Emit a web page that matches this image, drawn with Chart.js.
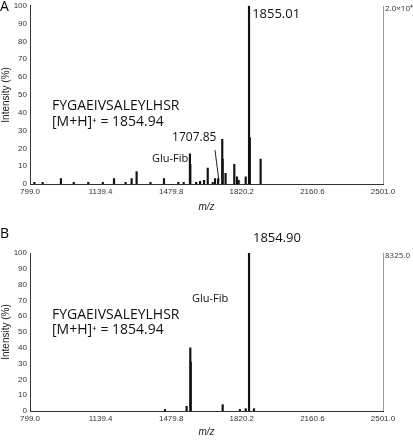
<!DOCTYPE html>
<html>
<head>
<script src="https://cdn.jsdelivr.net/npm/chart.js@4"></script>
<style>
  body { margin: 0; background: #fff; font-family: 'Open Sans', sans-serif; }
  .panel { position: relative; width: 413px; }
  .tag { position: absolute; left: 0; font-size: 14px; color: #000; }
</style>
</head>
<body>
<div class="panel" style="height:215px"><span class="tag" style="top:-4px">A</span><canvas id="chartA"></canvas></div>
<div class="panel" style="height:220px;margin-top:5px"><span class="tag" style="top:3px">B</span><canvas id="chartB"></canvas></div>
<script>
const xTicks = [799.0, 1139.4, 1479.8, 1820.2, 2160.6, 2501.0];
const yTicks = [0, 10, 20, 30, 40, 50, 60, 70, 80, 90, 100];

// panel A peaks (m/z, relative intensity)
const peaksA_mz = [820, 860, 948, 1010, 1080, 1150, 1204, 1260, 1289, 1313, 1380, 1445, 1514, 1540, 1570, 1572, 1600, 1619, 1638, 1656, 1680, 1691, 1706, 1726, 1728, 1742, 1784, 1797, 1805, 1839, 1855, 1859, 1911];
const peaksA_int = [1, 1, 3, 1, 1, 1, 3, 1, 3, 7, 1, 3, 1, 1, 17, 11, 1, 1.5, 2, 9, 1, 3, 3, 25, 14, 6, 11, 4, 2, 4, 100, 26, 14];

// panel B peaks
const peaksB_mz = [1450, 1554, 1572, 1574, 1728, 1811, 1839, 1855, 1879];
const peaksB_int = [1, 3, 40, 31, 4, 1, 1.5, 100, 1.5];

const notesA = [
  { text: '1855.01', x: 1870, y: 95, size: 13 },
  { text: 'FYGAEIVSALEYLHSR', x: 905, y: 44, size: 14 },
  { text: '[M+H]\u207A = 1854.94', x: 905, y: 35, size: 14 },
  { text: '1707.85', x: 1484, y: 26, size: 12 },
  { text: 'Glu-Fib', x: 1387, y: 14, size: 11 }
];
const notesB = [
  { text: '1854.90', x: 1874, y: 109, size: 13 },
  { text: 'FYGAEIVSALEYLHSR', x: 905, y: 61, size: 14 },
  { text: '[M+H]\u207A = 1854.94', x: 905, y: 51, size: 14 },
  { text: 'Glu-Fib', x: 1580, y: 71, size: 11 }
];

function overlay(notes, corner, leader) {
  return {
    id: 'overlay',
    afterDraw(chart) {
      const { ctx, scales: { x, y }, chartArea } = chart;
      ctx.save();
      ctx.fillStyle = '#111';
      ctx.textBaseline = 'middle';
      notes.forEach(n => {
        ctx.font = n.size + 'px "Open Sans"';
        ctx.fillText(n.text, x.getPixelForValue(n.x), y.getPixelForValue(n.y));
      });
      // right border at 2501
      ctx.strokeStyle = '#999';
      ctx.lineWidth = 1;
      ctx.beginPath();
      ctx.moveTo(chartArea.right + 0.5, chartArea.top);
      ctx.lineTo(chartArea.right + 0.5, chartArea.bottom);
      ctx.stroke();
      ctx.font = '8px "Open Sans"';
      ctx.fillStyle = '#333';
      ctx.fillText(corner, chartArea.right + 2, chartArea.top + 3);
      if (leader) {
        ctx.strokeStyle = '#222';
        ctx.beginPath();
        ctx.moveTo(x.getPixelForValue(leader[0]), y.getPixelForValue(leader[1]));
        ctx.lineTo(x.getPixelForValue(leader[2]), y.getPixelForValue(leader[3]));
        ctx.stroke();
      }
      ctx.restore();
    }
  };
}

function makeChart(id, mz, inten, notes, corner, leader, padTop, xHeight) {
  new Chart(document.getElementById(id), {
    type: 'bar',
    data: {
      datasets: [{
        data: mz.map((m, i) => ({ x: m, y: inten[i] })),
        backgroundColor: '#111',
        barThickness: 1.5
      }]
    },
    options: {
      responsive: true,
      maintainAspectRatio: false,
      animation: false,
      layout: { padding: { top: padTop, right: 30, left: 0, bottom: 0 } },
      plugins: { legend: { display: false }, tooltip: { enabled: false } },
      scales: {
        x: {
          type: 'linear', min: 799, max: 2501, offset: false,
          afterBuildTicks: s => { s.ticks = xTicks.map(v => ({ value: v })); },
          afterFit: s => { s.height = xHeight; },
          grid: { display: false, drawTicks: false, offset: false },
          border: { color: '#333' },
          ticks: { color: '#333', font: { size: 8 }, padding: 3, maxRotation: 0, autoSkip: false, callback: v => v.toFixed(1) },
          title: { display: true, text: 'm/z', color: '#222', font: { size: 10, style: 'italic' }, padding: 2 }
        },
        y: {
          min: 0, max: 100,
          afterBuildTicks: s => { s.ticks = yTicks.map(v => ({ value: v })); },
          afterFit: s => { s.width = 30; },
          grid: { display: false, tickLength: 2 },
          border: { color: '#333' },
          ticks: { color: '#333', font: { size: 8 }, padding: 1 },
          title: { display: true, text: 'Intensity (%)', color: '#222', font: { size: 10 }, padding: 0 }
        }
      }
    },
    plugins: [overlay(notes, corner, leader)]
  });
}

makeChart('chartA', peaksA_mz, peaksA_int, notesA, '2.0\u00D710\u2074', [1691, 19, 1710, 1.7], 4, 31);
makeChart('chartB', peaksB_mz, peaksB_int, notesB, '8325.0', null, 33, 29);
</script>
</body>
</html>
